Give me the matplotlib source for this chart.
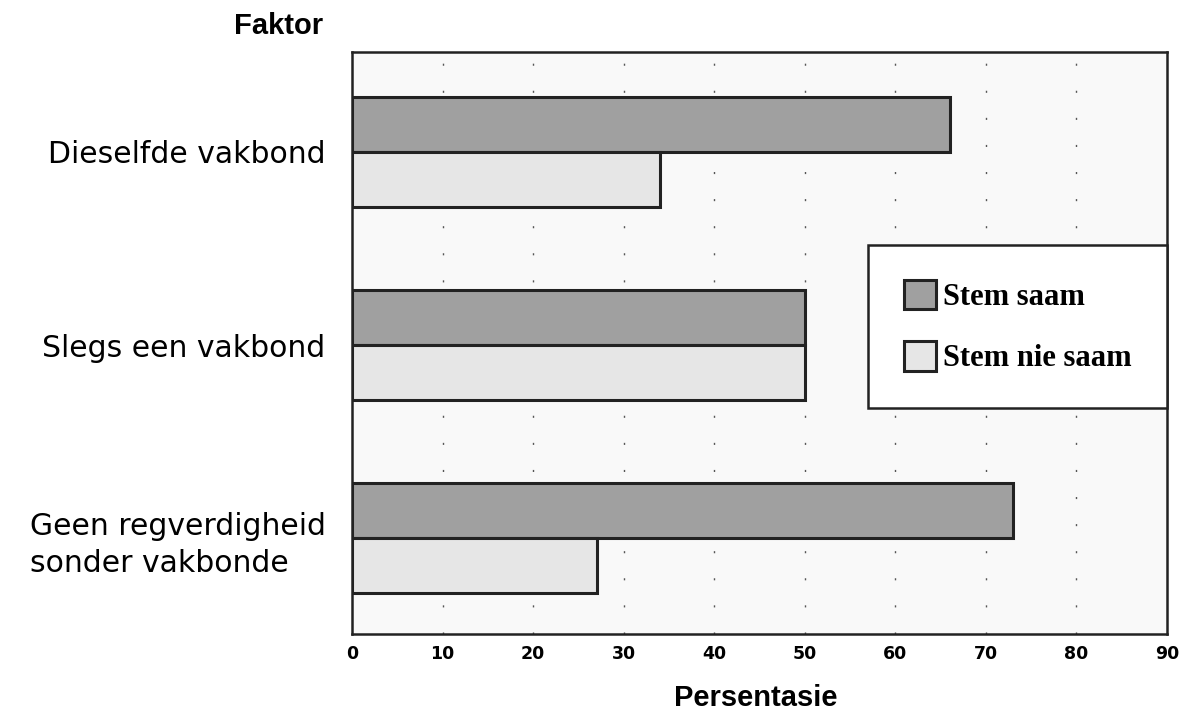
import numpy as np
import matplotlib
matplotlib.use("Agg")
from matplotlib import pyplot as plt
from matplotlib.patches import Patch

factors = ["Dieselfde vakbond", "Slegs een vakbond", "Geen regverdigheid\nsonder vakbonde"]
stem_saam = [66, 50, 73]
stem_nie_saam = [34, 50, 27]
xticks = [0, 10, 20, 30, 40, 50, 60, 70, 80, 90]

fig = plt.figure(figsize=(11.9, 7.17), dpi=100)
# axes box measured in pixels off the reference
ax = fig.add_axes([352/1190, 1-634/717, (1167-352)/1190, (634-52)/717])
ax.set_facecolor("#f9f9f9")

y = np.arange(len(factors))
h = 0.285
ax.barh(y - h/2, stem_saam, height=h, color="#a0a0a0", edgecolor="#222222", linewidth=2.2, zorder=3)
ax.barh(y + h/2, stem_nie_saam, height=h, color="#e6e6e6", edgecolor="#222222", linewidth=2.2, zorder=3)

ax.set_xlim(0, 90)
ax.set_ylim(2.497, -0.518)
ax.set_xticks(xticks)
ax.set_xticklabels([str(t) for t in xticks], family="DejaVu Sans", fontweight="bold", fontsize=12.5)
ax.set_yticks(y)
ax.set_yticklabels(factors, family="DejaVu Sans", fontsize=21.5, linespacing=1.35)
for lab in ax.get_yticklabels():
    lab.set_multialignment("left")
ax.tick_params(axis="x", length=0, pad=8)
ax.tick_params(axis="y", length=0, pad=19)

for t in xticks[1:-1]:
    ax.axvline(t, color="#555555", linestyle=(0, (1.5, 18)), linewidth=1, zorder=1)

for s in ax.spines.values():
    s.set_linewidth(1.8)
    s.set_color("#222222")

fig.text(323/1190, 1-26/717, "Faktor", family="Liberation Sans", fontweight="bold", fontsize=21,
         ha="right", va="center")
fig.text(756/1190, 1-698/717, "Persentasie", family="Liberation Sans", fontweight="bold", fontsize=21,
         ha="center", va="center")

handles = [Patch(facecolor="#a0a0a0", edgecolor="#222222", linewidth=2.2, label="Stem saam"),
           Patch(facecolor="#e6e6e6", edgecolor="#222222", linewidth=2.2, label="Stem nie saam")]
leg = ax.legend(handles=handles, loc="upper right", bbox_to_anchor=(1.0, 1-(245-52)/582),
                prop={"family": "Liberation Serif", "weight": "bold", "size": 22},
                frameon=True, fancybox=False, borderpad=1.15, handlelength=1.05, handleheight=1.1,
                handletextpad=0.25, labelspacing=0.95, borderaxespad=0)
leg.get_frame().set_edgecolor("#222222")
leg.get_frame().set_linewidth(1.8)
leg.get_frame().set_facecolor("white")
leg.get_frame().set_alpha(1)
leg.set_zorder(5)

fig.savefig("out.png", dpi=100, facecolor="white")
